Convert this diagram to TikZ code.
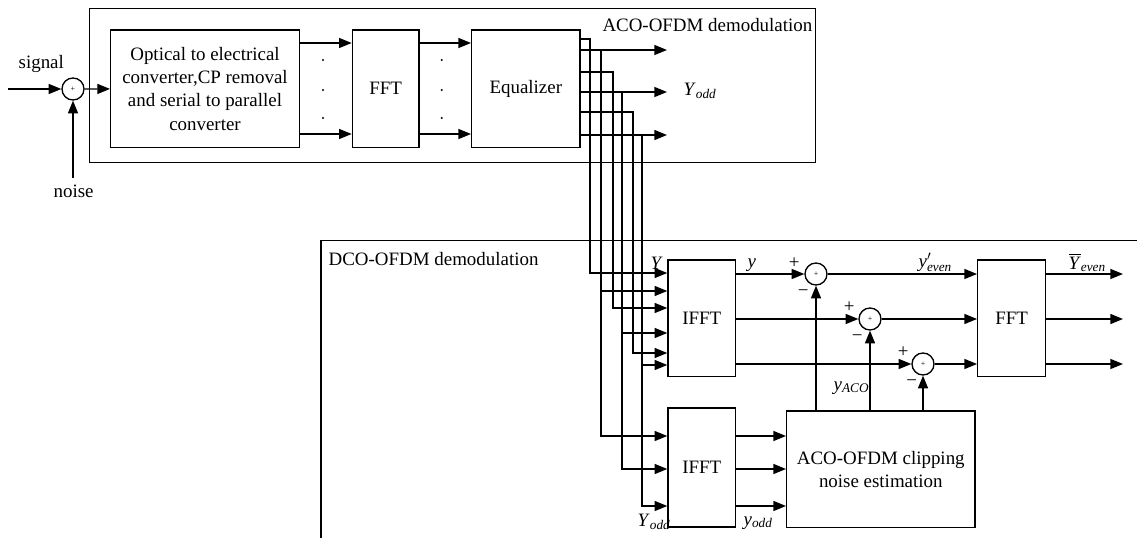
\documentclass[tikz,border=0pt]{standalone}
\usepackage{amsmath}
\usepackage{fontspec}
\setmainfont{Liberation Serif}
\usetikzlibrary{arrows.meta}

\newcommand{\sig}[2]{\textit{#1}$_{\textit{#2}}$}

\begin{document}
\begin{tikzpicture}[x=0.75pt, y=-0.75pt, >={Triangle[length=9.5pt, width=7.5pt]}, line width=1pt,
  font=\fontsize{14.2}{17.5}\selectfont,
  block/.style={draw, align=center, inner sep=0pt},
  adder/.style={draw, circle, minimum size=16.5pt, inner sep=0pt, font=\fontsize{6}{6}\selectfont},
  lbl/.style={inner sep=0pt}]
  \useasboundingbox (0,0) rectangle (1137,538);

  % Frames
  \draw (89.3,8.3) rectangle (815.7,162.3);
  \draw (321,538) |- (1137,240.7);
  \node[lbl, anchor=base east] (acotitle) at (813,31.7) {ACO-OFDM demodulation};
  \node[lbl, anchor=base west] (dcotitle) at (328,265.7) {DCO-OFDM demodulation};

  % Blocks
  \node[block, minimum width=141.5pt, minimum height=88pt] (conv) at (205,88.7)
    {Optical to electrical\\converter,CP removal\\and serial to parallel\\converter};
  \node[block, minimum width=50pt, minimum height=88pt] (fftA) at (385.7,88.7) {FFT};
  \node[block, minimum width=81.2pt, minimum height=88pt] (eq) at (525.8,88.7) {Equalizer};
  \node[block, minimum width=50.8pt, minimum height=87.5pt] (ifftA) at (701.8,318.3) {IFFT};
  \node[block, minimum width=50.8pt, minimum height=89.3pt] (ifftB) at (701.8,467.5) {IFFT};
  \node[block, minimum width=51pt, minimum height=87.5pt] (fftB) at (1011.7,318.3) {FFT};
  \node[block, minimum width=141.2pt, minimum height=87.5pt] (est) at (880.8,469.3)
    {ACO-OFDM clipping\\noise estimation};

  % Adders
  \node[adder] (sumin) at (73,89) {+};
  \node[adder] (sumA) at (816,274) {+};
  \node[adder] (sumB) at (870,319) {+};
  \node[adder] (sumC) at (923,364) {+};

  % Signal and noise
  \coordinate (sigsrc) at (8,89);
  \coordinate (noisesrc) at (73,178);
  \draw[->] (sigsrc) -- (sumin);
  \draw[->] (noisesrc) -- (sumin);
  \draw[->] (sumin) -- (conv);
  \node[lbl, anchor=base west] (siglbl) at (18,69) {signal};
  \node[lbl, anchor=base west] (noiselbl) at (53,198) {noise};

  % Parallel paths
  \draw[->] (conv.east |- 0,43) -- (fftA.west |- 0,43);
  \draw[->] (conv.east |- 0,134) -- (fftA.west |- 0,134);
  \draw[->] (fftA.east |- 0,43) -- (eq.west |- 0,43);
  \draw[->] (fftA.east |- 0,134) -- (eq.west |- 0,134);
  \fill (323,60) circle (0.9pt);
  \fill (323,90) circle (0.9pt);
  \fill (323,118) circle (0.9pt);
  \fill (441.7,60) circle (0.9pt);
  \fill (441.7,90) circle (0.9pt);
  \fill (441.7,118) circle (0.9pt);

  % Equalizer outputs
  \coordinate (oddA) at (667,50);
  \coordinate (oddB) at (667,92);
  \coordinate (oddC) at (667,135);
  \draw[->] (eq.east |- oddA) -- (oddA);
  \draw[->] (eq.east |- oddB) -- (oddB);
  \draw[->] (eq.east |- oddC) -- (oddC);
  \node[lbl, anchor=base west] (oddlbl) at (683,96) {\sig{Y}{odd}};

  % Feeds to the IFFT blocks
  \draw[->] (eq.east |- 0,39) -| (590,273) -- (ifftA.west |- 0,273);
  \draw[->] (601,50) |- (ifftB.west |- 0,436);
  \draw[->] (601,291) -- (ifftA.west |- 0,291);
  \draw[->] (eq.east |- 0,72) -| (613,308) -- (ifftA.west |- 0,308);
  \draw[->] (622,92) |- (ifftB.west |- 0,469);
  \draw[->] (622,333) -- (ifftA.west |- 0,333);
  \draw[->] (eq.east |- 0,112) -| (633,353) -- (ifftA.west |- 0,353);
  \draw[->] (642,135) |- (ifftB.west |- 0,506);
  \draw[->] (642,365) -- (ifftA.west |- 0,365);

  % IFFT outputs
  \draw[->] (ifftA.east |- sumA) -- (sumA);
  \draw[->] (ifftA.east |- sumB) -- (sumB);
  \draw[->] (ifftA.east |- sumC) -- (sumC);
  \draw[->] (ifftB.east |- 0,436) -- (est.west |- 0,436);
  \draw[->] (ifftB.east |- 0,469) -- (est.west |- 0,469);
  \draw[->] (ifftB.east |- 0,506) -- (est.west |- 0,506);

  % Clipping noise
  \draw[->] (est.north -| sumA) -- (sumA);
  \draw[->] (est.north -| sumB) -- (sumB);
  \draw[->] (est.north -| sumC) -- (sumC);

  % To the FFT and out
  \coordinate (outA) at (1123,274);
  \coordinate (outB) at (1123,319);
  \coordinate (outC) at (1123,364);
  \draw[->] (sumA) -- (fftB.west |- sumA);
  \draw[->] (sumB) -- (fftB.west |- sumB);
  \draw[->] (sumC) -- (fftB.west |- sumC);
  \draw[->] (fftB.east |- outA) -- (outA);
  \draw[->] (fftB.east |- outB) -- (outB);
  \draw[->] (fftB.east |- outC) -- (outC);

  % Signs
  \node[lbl] (plusA) at (794.3,263.3) {+};
  \node[lbl] (minusA) at (803.3,292.7) {−};
  \node[lbl] (plusB) at (849.3,306.7) {+};
  \node[lbl] (minusB) at (857.3,338.3) {−};
  \node[lbl] (plusC) at (903.3,351.7) {+};
  \node[lbl] (minusC) at (911.7,383.3) {−};

  % Signal names
  \node[lbl, anchor=base west] (Ylbl) at (650,269) {\textit{Y}};
  \node[lbl, anchor=base west] (ylbl) at (747,267) {\textit{y}};
  \node[lbl, anchor=base west] (yacolbl) at (833,390) {\sig{y}{ACO}};
  \node[lbl, anchor=base west] (Yoddlbl) at (637,526.7) {\sig{Y}{odd}};
  \node[lbl, anchor=base west] (yoddlbl) at (743,525) {\sig{y}{odd}};
  \node[lbl, anchor=base west] (yevenlbl) at (918,267) {\textit{y}$^{\prime}_{\textit{even}}$};
  \node[lbl, anchor=base west] (Yevenlbl) at (1068,269) {$\overline{\mbox{\textit{Y}}}$$_{\textit{even}}$};
\end{tikzpicture}
\end{document}
